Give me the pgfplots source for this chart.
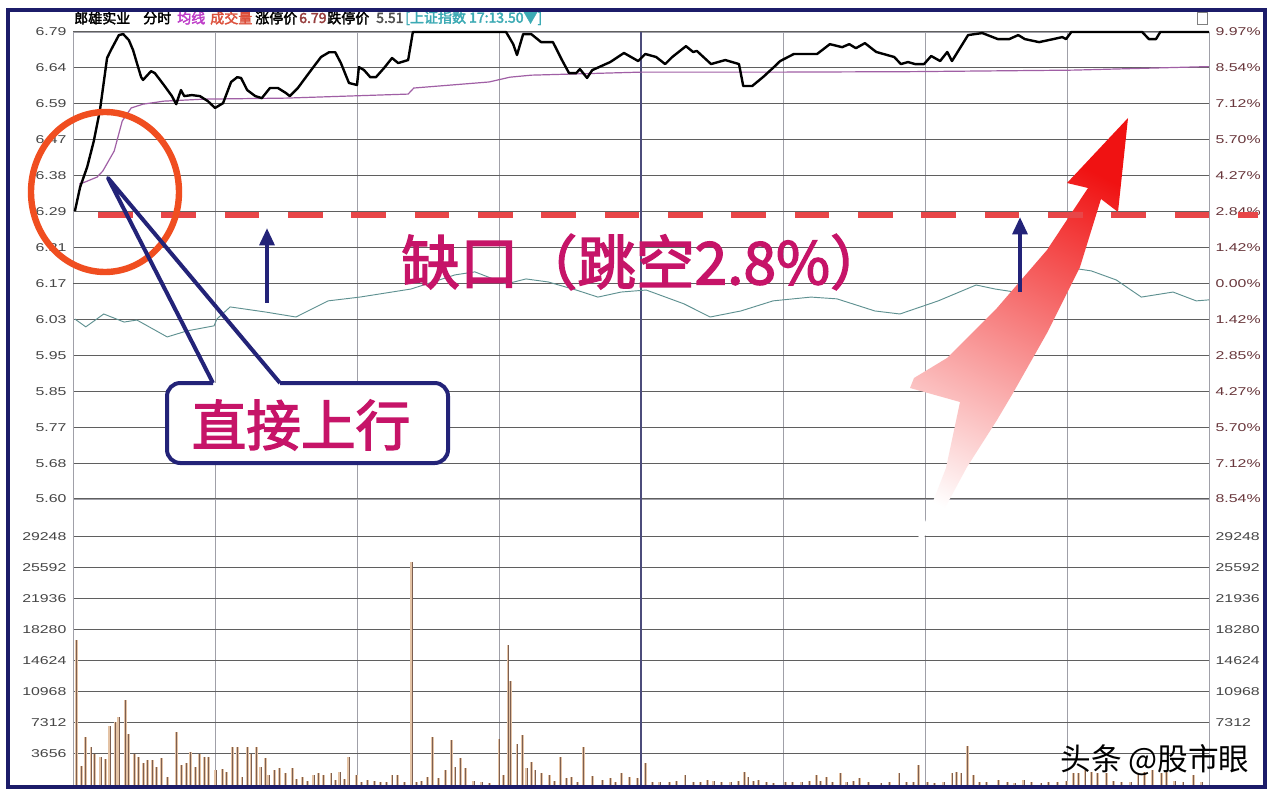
\documentclass[border=0pt]{standalone}
\usepackage{pgfplots}
\pgfplotsset{compat=1.18}
\usepackage{pgfplotstable}
\usepackage{fontspec}
\setmainfont{Liberation Sans}
\newfontfamily\cjk{Noto Sans CJK SC}
\newfontfamily\cjkb{Noto Sans CJK SC}[FakeBold=2.5]
\usetikzlibrary{arrows.meta}

\definecolor{frame}{RGB}{28,28,105}
\definecolor{navy}{RGB}{35,35,120}
\definecolor{hgrid}{RGB}{95,95,95}
\definecolor{vgrid}{RGB}{160,160,168}
\definecolor{avgline}{RGB}{160,95,165}
\definecolor{idxline}{RGB}{95,145,145}
\definecolor{gapred}{RGB}{232,70,72}
\definecolor{ring}{RGB}{240,78,32}
\definecolor{magtext}{RGB}{198,20,104}
\definecolor{voldark}{RGB}{125,95,80}
\definecolor{vollight}{RGB}{228,195,165}
\definecolor{lbl}{RGB}{70,70,70}
\definecolor{pctlbl}{RGB}{105,55,60}

\newcommand\tk{\fontsize{8.5}{10}\selectfont}

% volume per minute
\pgfplotstableread{
min vol
0.8 17000
1.8 2200
2.7 5630
3.8 4470
4.6 3700
5.9 3320
6.8 3000
7.8 6980
8.9 7370
9.7 7950
11.0 9950
11.8 6020
12.9 3700
13.9 3320
14.8 2550
15.8 2930
16.7 2930
17.7 2160
18.6 3120
20.0 900
21.8 6210
23.0 2350
23.9 2550
24.9 3900
25.8 2160
26.8 3630
27.7 3320
28.7 3240
30.2 1770
31.5 1850
32.5 1580
33.6 4470
34.7 4470
35.7 1000
36.8 4470
37.6 3700
38.7 4470
39.7 2160
40.6 3120
41.4 1200
42.5 1790
43.7 1970
44.8 1390
46.3 1970
47.3 700
48.4 1000
49.6 500
50.9 1200
51.8 1390
53.0 1200
54.5 1390
55.5 600
56.4 1580
57.4 700
58.3 3240
59.8 1200
61.0 400
62.3 620
63.6 420
65.0 300
66.2 350
67.4 1200
68.5 1200
70.0 300
71.6 26270
72.6 400
73.7 500
74.8 1000
75.9 5630
77.3 810
78.6 1770
79.9 5250
80.7 2160
81.8 3120
83.0 1970
84.7 420
86.4 300
88.0 250
90.0 5440
90.9 1200
91.9 16430
92.5 12190
93.8 4860
94.9 5820
95.9 1970
96.8 2740
97.6 1790
98.9 1390
100.6 1200
101.8 500
102.9 3320
104.2 810
105.4 1000
106.6 400
107.8 4470
109.7 1080
111.8 620
113.5 810
114.6 400
115.8 1390
117.5 1000
119.2 810
120.9 2550
122.5 400
124.0 300
126.0 350
127.5 500
129.3 1200
131.0 400
132.5 300
134.0 620
135.4 420
137.0 300
139.0 400
140.5 500
141.8 1580
142.6 1000
143.8 500
144.9 620
146.5 300
148.0 250
150.5 300
152.0 400
154.0 300
155.5 500
157.0 1200
158.0 500
159.1 1000
160.5 400
162.1 1390
163.5 400
164.8 500
166.1 810
168.0 300
170.7 230
172.5 300
174.5 1390
176.0 400
177.5 300
178.7 2350
180.5 300
182.0 250
184.0 400
185.7 1390
186.6 1580
187.6 1390
188.9 4550
190.2 1200
191.5 400
193.0 300
195.6 620
197.5 300
199.0 250
200.9 620
202.5 300
204.5 250
206.0 300
208.0 400
209.8 500
211.3 1390
212.5 1470
213.8 1770
215.1 1580
216.4 1390
218.3 1390
219.8 500
221.5 400
223.5 300
225.0 1390
226.3 1580
228.0 1770
229.9 1390
231.1 1580
232.8 500
234.5 400
236.8 1200
238.5 300
}\vol

\pgfplotsset{
  panel/.style={scale only axis, width=852pt, xmin=0, xmax=240,
    xtick={0,30,...,240}, xticklabel=\empty, major tick length=0pt,
    axis line style={vgrid, line width=0.6pt},
    grid=major, x grid style={vgrid, line width=0.6pt},
    y grid style={hgrid, line width=0.8pt},
    yticklabel style={font=\tk, text=lbl, xscale=1.4},
  },
  pct/.style={ymin=-8.547, ymax=9.972,
    ytick={-8.547,-7.123,-5.698,-4.274,-2.849,-1.425,0,1.425,2.849,4.274,5.698,7.123,8.547,9.972}},
  vols/.style={ymin=0, ymax=33620, scaled y ticks=false,
    ytick={3656,7312,10968,14624,18280,21936,25592,29248}},
}

\begin{document}
\begin{tikzpicture}
\useasboundingbox (0,0) rectangle (960pt,-598.5pt);
\fill[white] (0,0) rectangle (960pt,-598.5pt);

% price panel
\begin{axis}[panel, pct, at={(54.75pt,-24pt)}, anchor=north west, height=350.25pt,
  yticklabels={5.60,5.68,5.77,5.85,5.95,6.03,6.17,6.21,6.29,6.38,6.47,6.59,6.64,6.79},
  extra y ticks={0}, extra y tick labels={},
  extra y tick style={grid style={black, line width=1.1pt}},
  clip=false]
  \draw[navy!55!gray, line width=0.9pt] (axis cs:120,-8.547) -- (axis cs:120,9.972);
  % index line
  \addplot[idxline, line width=0.7pt, no markers] coordinates {
    (0.4,-1.41)(2.7,-1.72)(6.5,-1.21)(10.8,-1.53)(13.5,-1.45)(19.9,-2.12)(24.1,-1.88)
    (29.8,-1.68)(30.4,-1.41)(33.2,-0.93)(40.6,-1.13)(47.1,-1.33)(53.9,-0.69)(60.6,-0.54)
    (71.4,-0.22)(80.7,0.34)(84.9,0.46)(91.5,-0.02)(95.7,0.18)(100.4,0.06)(106.3,-0.26)
    (110.9,-0.54)(115.8,-0.34)(121.1,-0.26)(129.1,-0.81)(134.6,-1.33)(141.1,-1.09)
    (147.9,-0.69)(155.9,-0.54)(161.4,-0.61)(169.4,-1.09)(174.7,-1.21)(182.8,-0.69)
    (190.8,-0.06)(194.8,-0.22)(199.0,-0.34)(207.0,0.42)(211.1,0.61)(215.1,0.50)
    (220.4,0.14)(225.7,-0.54)(232.4,-0.34)(237.3,-0.69)(240,-0.65)};
  % average price
  \addplot[avgline, line width=0.9pt, no markers] coordinates {
    (1.3,3.94)(2.5,4.02)(5.1,4.22)(6.3,4.46)(8.7,5.25)(10.4,6.44)(12.3,6.96)(14.8,7.11)
    (19.2,7.23)(27.7,7.31)(45.0,7.35)(70.8,7.51)(72.0,7.75)(87.9,7.99)(92.3,8.18)
    (96.8,8.26)(119.8,8.38)(148.3,8.38)(177.5,8.40)(211.3,8.46)(240,8.60)};
  % price
  \addplot[black, line width=1.8pt, no markers, line join=round] coordinates {
    (0.4,2.87)(1.5,3.82)(3.0,4.62)(4.4,5.65)(5.7,6.88)(7.2,8.94)(8.0,9.25)(9.7,9.85)
    (10.6,9.89)(11.8,9.65)(12.7,9.25)(13.5,8.74)(14.4,8.18)(14.8,8.07)(16.5,8.42)
    (17.3,8.34)(19.2,7.87)(20.9,7.43)(21.8,7.11)(22.8,7.67)(23.5,7.43)(25.1,7.47)
    (26.8,7.43)(28.5,7.23)(30.0,6.96)(31.7,7.15)(33.4,7.99)(34.7,8.18)(35.5,8.15)
    (36.8,7.67)(38.5,7.43)(39.9,7.35)(41.6,7.75)(43.3,7.75)(45.0,7.55)(45.8,7.43)
    (47.5,7.75)(50.3,8.46)(52.4,8.98)(54.1,9.17)(55.4,9.17)(56.6,8.74)(58.3,7.95)
    (60.0,7.87)(60.4,8.58)(61.5,8.46)(62.8,8.18)(64.0,8.18)(65.7,8.54)(67.4,8.94)
    (68.7,8.74)(70.8,8.86)(71.8,9.97)(91.5,9.97)(93.0,9.49)(93.8,9.06)(95.1,9.89)
    (96.8,9.89)(98.9,9.57)(101.4,9.57)(103.3,8.86)(104.8,8.34)(106.3,8.34)(107.1,8.50)
    (108.6,8.15)(109.7,8.46)(113.5,8.78)(116.4,9.14)(119.4,8.82)(120.9,9.10)(123.2,8.98)
    (125.1,8.70)(126.6,8.98)(129.5,9.41)(131.0,9.18)(131.8,9.22)(134.8,8.70)(137.8,8.86)
    (140.7,8.70)(141.6,7.83)(143.5,7.83)(146.0,8.22)(148.3,8.62)(149.4,8.82)(152.3,9.10)
    (157.2,9.10)(159.9,9.49)(162.5,9.37)(164.0,9.49)(165.4,9.33)(167.3,9.53)(169.7,9.18)
    (173.5,8.98)(174.9,8.70)(176.4,8.78)(177.9,8.70)(179.8,8.70)(181.3,9.02)(183.2,8.82)
    (184.7,9.18)(185.7,8.82)(189.1,9.85)(192.1,9.93)(195.4,9.69)(197.8,9.69)(199.7,9.85)
    (201.1,9.69)(204.1,9.57)(207.1,9.69)(209.0,9.77)(209.8,9.69)(210.9,9.97)(225.9,9.97)
    (227.3,9.69)(228.8,9.69)(229.7,9.97)(240,9.97)};
\end{axis}
\begin{axis}[panel, pct, at={(54.75pt,-24pt)}, anchor=north west, height=350.25pt,
  grid=none, hide x axis, axis y line*=right,
  yticklabels={8.54\%,7.12\%,5.70\%,4.27\%,2.85\%,1.42\%,0.00\%,1.42\%,2.84\%,4.27\%,5.70\%,7.12\%,8.54\%,9.97\%},
  yticklabel style={text=pctlbl}]
\end{axis}

% volume panel
\begin{axis}[panel, vols, at={(54.75pt,-588.75pt)}, anchor=south west, height=214.5pt,
  yticklabels={3656,7312,10968,14624,18280,21936,25592,29248}]
  \draw[navy!55!gray, line width=0.9pt] (axis cs:120,0) -- (axis cs:120,33620);
  \addplot[ycomb, vollight, line width=2.2pt, no markers] table[x=min, y=vol] {\vol};
  \addplot[ycomb, voldark, line width=0.6pt, no markers] table[x=min, y=vol] {\vol};
\end{axis}
% right labels; the lowest one lies under the watermark
\begin{axis}[panel, at={(54.75pt,-588.75pt)}, anchor=south west, height=214.5pt,
  ymin=0, ymax=33620, scaled y ticks=false,
  ytick={7312,10968,14624,18280,21936,25592,29248},
  grid=none, hide x axis, axis y line*=right,
  yticklabels={7312,10968,14624,18280,21936,25592,29248}]
\end{axis}

% annotations, in pixel units of the picture
\begin{scope}[x=0.75pt, y=-0.75pt]
  % rising arrow
  \shade[top color={rgb,255:red,240;green,18;blue,18},
         middle color={rgb,255:red,247;green,150;blue,150},
         bottom color=white, shading angle=-27]
    (1128,118) -- (1118,212) -- (1101,199) -- (1080,267) -- (1047,333) -- (1013,393)
    -- (997,420) -- (967,467) -- (940,517) -- (906,560) -- (922,530) -- (946,468)
    -- (960,402) -- (910,388) -- (914,378) -- (947,358) -- (997,308) -- (1047,250)
    -- (1088,188) -- (1067,183) -- cycle;
  % gap line
  \draw[gapred, line width=5.2pt, dash pattern=on 26pt off 21.5pt] (98,215) -- (1258,215);
  % circle
  \draw[ring, line width=4.8pt] (105,192) ellipse [x radius=55.5pt, y radius=60pt];
  % callout
  \fill[white, rounded corners=10pt] (167,383) rectangle (448,463);
  \draw[navy, line width=3pt, line join=round] (213,383) -- (108,178) -- (280,383);
  \draw[navy, line width=3pt, rounded corners=10pt]
    (213,383) -- (167,383) -- (167,463) -- (448,463) -- (448,383) -- (280,383);
  \node[text=magtext, font=\cjkb\fontsize{41}{46}\selectfont] at (301,425) {直接上行};
  % up arrows
  \draw[navy, line width=3pt, -{Triangle[width=11pt,length=13pt]}] (267,303) -- (267,228);
  \draw[navy, line width=3pt, -{Triangle[width=11pt,length=13pt]}] (1020,292) -- (1020,217);
  % gap text
  \node[text=magtext, font=\cjkb\fontsize{44}{50}\selectfont] at (645,262) {缺口（跳空2.8\%）};
  % header
  \begin{scope}[every node/.style={anchor=west, inner sep=0pt, font=\cjkb\fontsize{10.5}{12}\selectfont}]
    \node[text=black] at (74,18) {郎雄实业};
    \node[text=black] at (143,18) {分时};
    \node[text={rgb,255:red,190;green,60;blue,200}] at (177,18) {均线};
    \node[text={rgb,255:red,220;green,80;blue,60}] at (210,18) {成交量};
    \node[text=black] at (255,18) {涨停价};
    \node[text={rgb,255:red,150;green,60;blue,60}] at (299,18) {6.79};
    \node[text=black] at (327,18) {跌停价};
    \node[text=black!70] at (376,18) {5.51};
    \node[text={rgb,255:red,60;green,170;blue,180}] at (405,18) {[上证指数 17:13.50▼]};
  \end{scope}
  \draw[gray, line width=0.6pt] (1197,12) rectangle (1207,24);
  % watermark
  \node[text=black, font=\cjk\fontsize{23}{26}\selectfont] at (1155,760) {头条 @股市眼};
  % frame
  \draw[frame, line width=3.5pt] (8,10) rectangle (1265,787);
\end{scope}
\end{tikzpicture}
\end{document}
